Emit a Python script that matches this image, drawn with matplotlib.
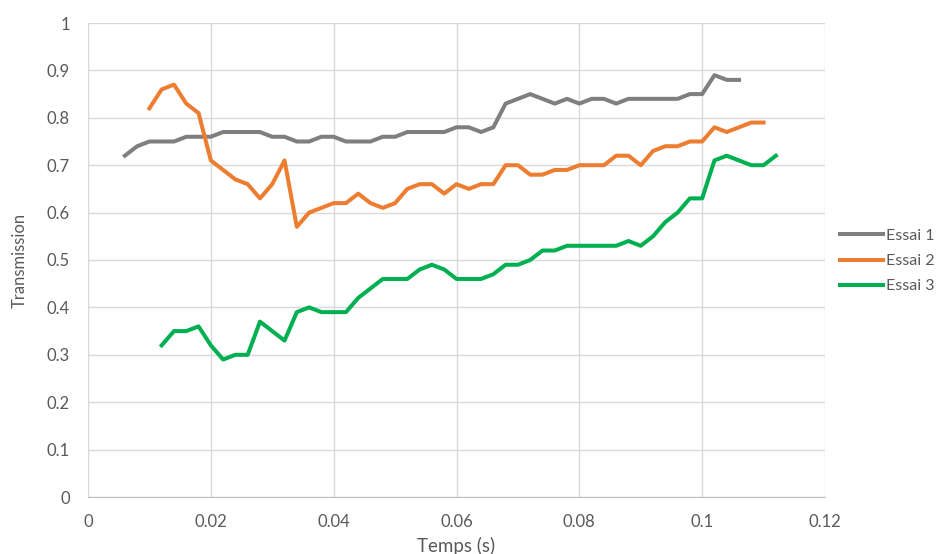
import numpy as np
import matplotlib
matplotlib.use("Agg")
from matplotlib import pyplot as plt
from matplotlib.ticker import FuncFormatter

# temps (s), pas de 0.002
t1 = np.round(np.arange(0.006, 0.1061, 0.002), 3)
t2 = np.round(np.arange(0.010, 0.1101, 0.002), 3)
t3 = np.round(np.arange(0.012, 0.1121, 0.002), 3)

essai1 = [0.72, 0.74, 0.75, 0.75, 0.75, 0.76, 0.76, 0.76, 0.77, 0.77,
          0.77, 0.77, 0.76, 0.76, 0.75, 0.75, 0.76, 0.76, 0.75, 0.75,
          0.75, 0.76, 0.76, 0.77, 0.77, 0.77, 0.77, 0.78, 0.78, 0.77,
          0.78, 0.83, 0.84, 0.85, 0.84, 0.83, 0.84, 0.83, 0.84, 0.84,
          0.83, 0.84, 0.84, 0.84, 0.84, 0.84, 0.85, 0.85, 0.89, 0.88,
          0.88]
essai2 = [0.82, 0.86, 0.87, 0.83, 0.81, 0.71, 0.69, 0.67, 0.66, 0.63,
          0.66, 0.71, 0.57, 0.60, 0.61, 0.62, 0.62, 0.64, 0.62, 0.61,
          0.62, 0.65, 0.66, 0.66, 0.64, 0.66, 0.65, 0.66, 0.66, 0.70,
          0.70, 0.68, 0.68, 0.69, 0.69, 0.70, 0.70, 0.70, 0.72, 0.72,
          0.70, 0.73, 0.74, 0.74, 0.75, 0.75, 0.78, 0.77, 0.78, 0.79,
          0.79]
essai3 = [0.32, 0.35, 0.35, 0.36, 0.32, 0.29, 0.30, 0.30, 0.37, 0.35,
          0.33, 0.39, 0.40, 0.39, 0.39, 0.39, 0.42, 0.44, 0.46, 0.46,
          0.46, 0.48, 0.49, 0.48, 0.46, 0.46, 0.46, 0.47, 0.49, 0.49,
          0.50, 0.52, 0.52, 0.53, 0.53, 0.53, 0.53, 0.53, 0.54, 0.53,
          0.55, 0.58, 0.60, 0.63, 0.63, 0.71, 0.72, 0.71, 0.70, 0.70,
          0.72]

plt.rcParams['font.family'] = ['Lato', 'DejaVu Sans']

fig = plt.figure(figsize=(9.38, 5.54), dpi=100)
ax = fig.add_axes([88/938, 1-497/554, (825-88)/938, (497-23)/554])

ax.plot(t1, essai1, color='#7F7F7F', lw=2.9, label='Essai 1', solid_joinstyle='round')
ax.plot(t2, essai2, color='#ED7D31', lw=2.9, label='Essai 2', solid_joinstyle='round')
ax.plot(t3, essai3, color='#00B050', lw=2.9, label='Essai 3', solid_joinstyle='round')

ax.set_xlim(0, 0.12)
ax.set_ylim(0, 1)
ax.set_xticks(np.arange(0, 0.121, 0.02))
ax.set_yticks(np.arange(0, 1.01, 0.1))
fmt = FuncFormatter(lambda v, p: '%g' % round(v, 3))
ax.xaxis.set_major_formatter(fmt)
ax.yaxis.set_major_formatter(fmt)

ax.grid(True, color='#D9D9D9', lw=1)
ax.set_axisbelow(True)
for s in ['top', 'right', 'left']:
    ax.spines[s].set_visible(False)
ax.spines['bottom'].set_color('#BFBFBF')
ax.tick_params(length=0, labelsize=12, colors='#595959')
ax.tick_params(axis='x', pad=12)
ax.tick_params(axis='y', pad=13)

ax.set_xlabel('Temps (s)', fontsize=13.5, color='#595959', labelpad=5)
ax.set_ylabel('Transmission', fontsize=12, color='#595959', labelpad=14)

leg = fig.legend(loc='center left', bbox_to_anchor=(840/938, 1-261/554), frameon=False,
                 fontsize=11.5, handlelength=2.7, handletextpad=0.2,
                 labelspacing=0.68, borderpad=0, borderaxespad=0)
for txt in leg.get_texts():
    txt.set_color('#595959')

fig.savefig('out.png', dpi=100)
